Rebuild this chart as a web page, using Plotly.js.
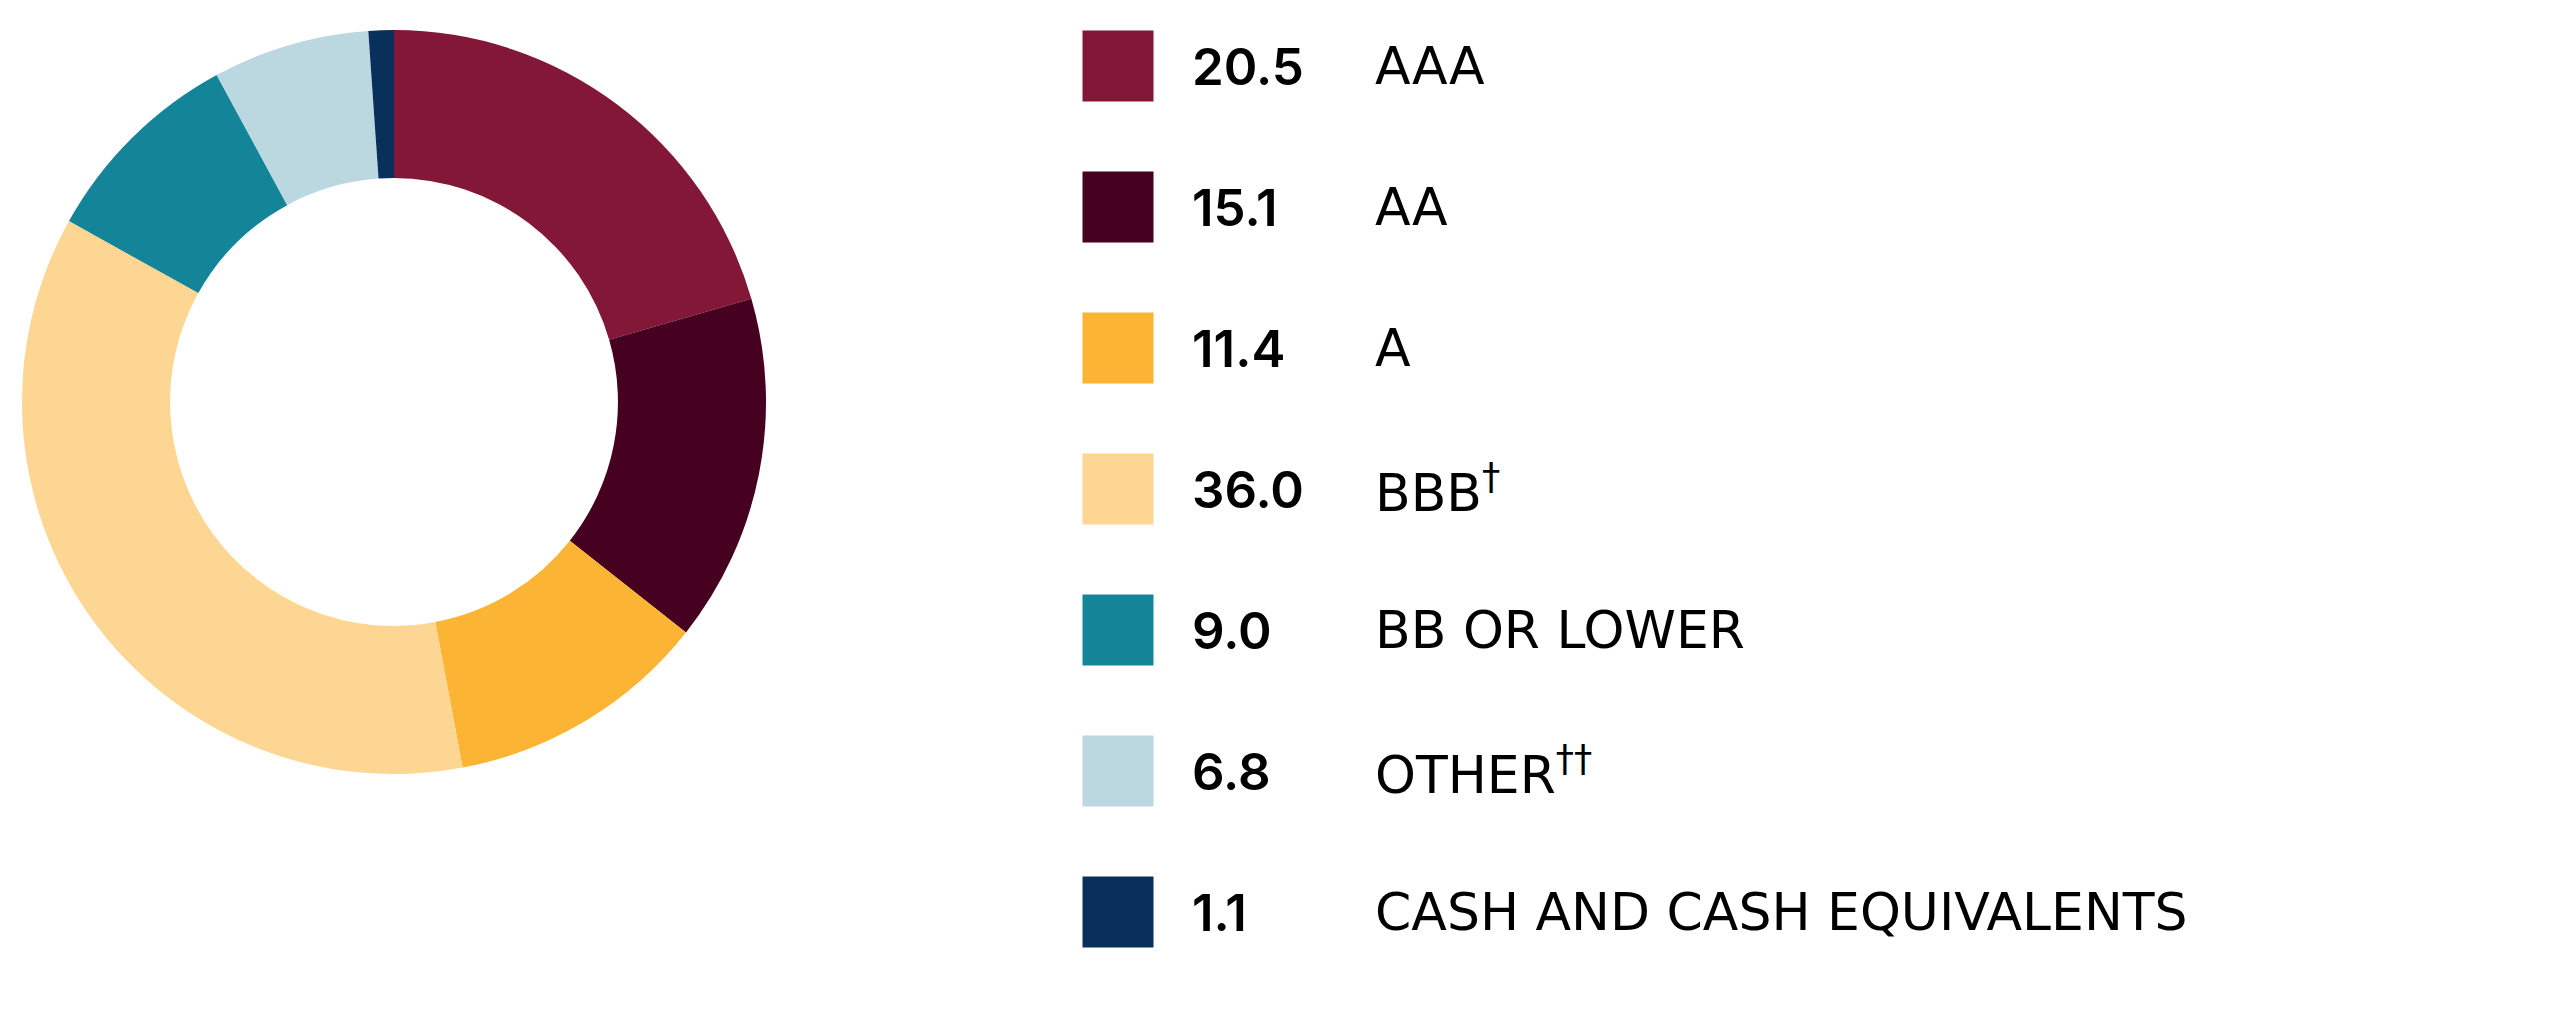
<!DOCTYPE html>
<html>
<head>
<meta charset="utf-8">
<script src="https://cdn.plot.ly/plotly-3.0.1.min.js"></script>
<style>
  html, body { margin: 0; padding: 0; background: #ffffff; }
  #chart { width: 2560px; height: 1030px; }
</style>
</head>
<body>
<div id="chart"></div>
<script>
// ─── Data ─────────────────────────────────────────────────────────────────────
const ratings = ['AAA', 'AA', 'A', 'BBB', 'BB OR LOWER', 'OTHER', 'CASH AND CASH EQUIVALENTS'];
const footnotes = ['', '', '', '†', '', '††', ''];
const weights = [20.5, 15.1, 11.4, 36.0, 9.0, 6.8, 1.1];
const sliceColors = ['#821738', '#460020', '#FBB433', '#FED694', '#148598', '#BBD8E0', '#08305A'];

// ─── Layout constants (px on a 2560 x 1030 canvas) ───────────────────────────
const W = 2560, H = 1030;
const pieCx = 394, pieCy = 402, pieR = 372;
const swatchX = 1118, swatchSize = 71;
const valueX = 1190, labelX = 1373;
const rowTop = 66, rowStep = 141;

const rows = ratings.map((_, i) => i);

// ─── Donut ────────────────────────────────────────────────────────────────────
const donut = {
    type: 'pie',
    labels: ratings,
    values: weights,
    sort: false,
    direction: 'clockwise',
    rotation: 0,
    hole: 0.602,
    marker: { colors: sliceColors, line: { width: 0 } },
    textinfo: 'none',
    hoverinfo: 'skip',
    showlegend: false,
    domain: {
        x: [(pieCx - pieR) / W, (pieCx + pieR) / W],
        y: [1 - (pieCy + pieR) / H, 1 - (pieCy - pieR) / H],
    },
};

// ─── Legend swatches ─────────────────────────────────────────────────────────
const swatches = {
    type: 'scatter', mode: 'markers',
    x: rows.map(() => swatchX), y: rows,
    marker: { symbol: 'square', size: swatchSize, color: sliceColors, line: { width: 0 } },
    hoverinfo: 'skip', showlegend: false,
    cliponaxis: false,
};

// values column (bold) and rating names column
const valueNotes = weights.map((v, i) => ({
    x: valueX, y: i, xref: 'x', yref: 'y',
    xanchor: 'left', yanchor: 'middle',
    text: v.toFixed(1), showarrow: false,
    font: { family: 'Inter, sans-serif', size: 51, weight: 600, color: '#000000' },
}));

const labelNotes = ratings.map((r, i) => ({
    x: labelX, y: i, xref: 'x', yref: 'y',
    xanchor: 'left', yanchor: 'middle',
    text: footnotes[i] ? `${r}<sup>${footnotes[i]}</sup>` : r,
    showarrow: false,
    font: { family: 'DejaVu Sans, sans-serif', size: 52, color: '#000000' },
}));

const unitsPerPx = 1 / rowStep;
const layout = {
    width: W, height: H,
    margin: { l: 0, r: 0, t: 0, b: 0 },
    paper_bgcolor: '#ffffff',
    plot_bgcolor: 'rgba(0,0,0,0)',
    showlegend: false,
    xaxis: { range: [0, W], visible: false, fixedrange: true },
    yaxis: {
        range: [(H - rowTop) * unitsPerPx, -rowTop * unitsPerPx],
        visible: false, fixedrange: true,
    },
    annotations: [...valueNotes, ...labelNotes],
};

Plotly.newPlot('chart', [donut, swatches], layout, { staticPlot: true, displayModeBar: false });
</script>
</body>
</html>
